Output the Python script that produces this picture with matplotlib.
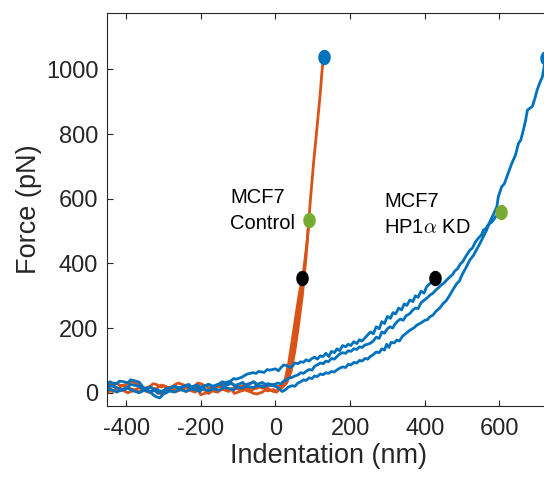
import numpy as np
import matplotlib
matplotlib.use("Agg")
import matplotlib.pyplot as plt
from matplotlib.path import Path

plt.rcParams['font.family'] = ['Liberation Sans', 'DejaVu Sans']
plt.rcParams['mathtext.fontset'] = 'cm'

# ---- indentation curves: MCF7 control (orange) ----
ctrl1_x = [-452, -444, -436, -425, -418, -410, -395, -388, -380, -365, -358, -350, -335, -328,
           -320, -305, -298, -290, -275, -268, -260, -245, -238, -230, -215, -208, -200, -185,
           -178, -170, -155, -148, -140, -125, -118, -110, -95, -88, -80, -65, -58, -50, -35,
           -28, -20, -5, 3, 10, 18, 26, 36, 46, 55, 63, 72]
ctrl1_y = [5, 14, 6, 8, 16, 22, 18, 12, 10, 2, 10, 6, 0, 8, 4, -4, 4, 2, 10, 4, 6, 14, 18, 8,
           2, 10, -6, 0, -2, 6, 2, 8, 10, 4, 12, -2, 4, 10, 8, 2, -2, -4, 2, 8, 6, 10, 4, 14, 22,
           40, 95, 170, 240, 300, 356]

ctrl2_x = [-452, -444, -436, -425, -418, -410, -395, -388, -380, -365, -358, -350, -335, -328,
           -320, -305, -298, -290, -275, -268, -260, -245, -238, -230, -215, -208, -200, -185,
           -178, -170, -155, -148, -140, -125, -118, -110, -95, -88, -80, -65, -58, -50, -35,
           -28, -20, -5, 3, 10, 20, 30, 40, 50, 60, 70, 80, 85, 90]
ctrl2_y = [18, 26, 22, 30, 24, 22, 28, 36, 32, 24, 18, 14, 20, 28, 26, 18, 22, 12, 20, 26, 30,
           24, 18, 16, 22, 30, 28, 20, 14, 12, 18, 24, 26, 32, 28, 24, 18, 22, 24, 30, 34, 22,
           14, 18, 20, 26, 20, 20, 24, 38, 80, 150, 235, 325, 420, 470, 534]

ctrl3_x = [-452, -444, -436, -425, -418, -410, -395, -388, -380, -365, -358, -350, -335, -328,
           -320, -305, -298, -290, -275, -268, -260, -245, -238, -230, -215, -208, -200, -185,
           -178, -170, -155, -148, -140, -125, -118, -110, -95, -88, -80, -65, -58, -50, -35,
           -28, -20, -5, 3, 10, 20, 30, 42, 52, 62, 72, 82, 93, 102, 108, 115, 120, 124, 127,
           129]
ctrl3_y = [-2, 6, 4, 14, 10, 8, 0, 4, 6, 16, 12, 10, 18, 14, 12, 24, 20, 18, 10, 14, 16, 8, 4,
           14, 20, 16, 12, 6, 10, 14, 22, 18, 16, 8, 12, 14, 10, 6, 16, 8, 12, 14, 22, 16, 12, 4,
           2, 10, 18, 30, 66, 130, 210, 300, 420, 587, 709, 780, 864, 925, 985, 1020, 1039]

# ---- indentation curves: MCF7 HP1a KD (blue) ----
kd1_x = [-452, -444, -436, -425, -418, -410, -395, -388, -380, -365, -355, -345, -330, -322,
         -315, -300, -292, -285, -270, -262, -255, -240, -232, -225, -210, -202, -195, -180,
         -172, -165, -150, -142, -135, -120, -112, -105, -90, -82, -75, -60, -52, -45, -30, -22,
         -15, 0, 8, 15, 22, 30, 38, 45, 52, 60, 68, 75, 82, 90, 98, 105, 112, 120, 128, 135,
         143, 150, 158, 165, 172, 180, 188, 195, 202, 210, 218, 225, 232, 240, 248, 255, 262,
         270, 278, 285, 292, 300, 308, 315, 322, 330, 338, 345, 352, 360, 368, 375, 382, 390,
         398, 405, 414, 420, 428]
kd1_y = [26, 34, 30, 28, 36, 35, 31, 40, 38, 33, 18, 8, 4, 10, -2, 6, 12, 14, 20, 14, 16, 22,
         26, 18, 24, 18, 19, 26, 22, 21, 28, 34, 31, 36, 44, 42, 48, 54, 58, 62, 60, 66, 63, 72,
         70, 74, 68, 78, 86, 84, 78, 82, 92, 90, 96, 94, 102, 98, 106, 110, 104, 114, 112, 122,
         112, 128, 124, 136, 130, 146, 142, 150, 146, 158, 152, 164, 160, 170, 180, 188, 182,
         204, 198, 220, 214, 236, 230, 248, 244, 262, 256, 275, 270, 287, 282, 300, 295, 314,
         308, 328, 338, 345, 354]

kd2_x = [-452, -444, -436, -425, -418, -410, -395, -388, -380, -365, -358, -350, -335, -328,
         -320, -305, -298, -290, -275, -268, -260, -245, -238, -230, -215, -208, -200, -185,
         -178, -170, -155, -148, -140, -125, -118, -110, -95, -88, -80, -65, -58, -50, -35, -28,
         -20, -5, 5, 15, 22, 30, 38, 45, 52, 60, 68, 75, 82, 90, 98, 105, 112, 120, 128, 135,
         142, 150, 158, 165, 172, 180, 188, 195, 202, 210, 218, 225, 232, 240, 247, 254, 262,
         270, 278, 285, 292, 300, 307, 314, 320, 328, 335, 342, 350, 356, 361, 368, 375, 382,
         390, 398, 405, 414, 422, 430, 438, 445, 452, 460, 468, 475, 480, 488, 495, 502, 510,
         521, 528, 535, 545, 552, 557, 564, 570, 580, 585, 590, 596, 603]
kd2_y = [14, 22, 20, 16, 12, 10, 18, 26, 24, 20, 14, 12, 18, 12, 10, 4, 8, 12, 18, 20, 14, 20,
         24, 16, 10, 14, 16, 22, 26, 18, 24, 28, 20, 26, 30, 22, 28, 32, 24, 30, 34, 26, 32, 26,
         28, 24, 30, 28, 36, 40, 46, 48, 52, 55, 62, 60, 66, 72, 70, 82, 86, 92, 90, 98, 96, 106,
         104, 112, 120, 124, 122, 130, 128, 136, 134, 142, 140, 148, 150, 153, 160, 172, 168,
         188, 184, 198, 204, 200, 212, 222, 228, 224, 238, 242, 246, 256, 262, 260, 278, 286,
         292, 302, 308, 318, 326, 334, 340, 350, 359, 366, 376, 384, 398, 406, 422, 441, 448,
         465, 480, 488, 503, 508, 520, 528, 536, 545, 548, 558]

kd3_x = [-452, -444, -436, -425, -418, -410, -395, -388, -380, -365, -358, -350, -335, -328,
         -320, -310, -300, -292, -285, -270, -262, -255, -240, -232, -225, -210, -202, -195,
         -180, -172, -165, -150, -142, -135, -120, -112, -105, -90, -82, -75, -60, -52, -45,
         -30, -22, -15, 0, 10, 18, 25, 35, 45, 52, 60, 68, 75, 82, 90, 98, 105, 112, 120, 128,
         135, 142, 150, 157, 164, 172, 180, 188, 195, 202, 210, 218, 225, 232, 240, 247, 254,
         262, 270, 278, 285, 292, 298, 304, 310, 318, 325, 332, 340, 350, 361, 370, 380, 390,
         400, 407, 414, 422, 430, 440, 450, 457, 465, 475, 486, 493, 500, 510, 521, 530, 540,
         548, 557, 566, 575, 584, 593, 597, 606, 613, 620, 627, 633, 643, 651, 657, 664, 670,
         675, 682, 688, 695, 701, 708, 715, 724]
kd3_y = [4, 12, 8, 2, 6, 8, 14, 10, 6, 0, 4, 8, 2, -6, -12, -16, -4, 0, 6, 2, 8, 10, 4, 8, 12,
         8, 4, 14, 6, 10, 12, 8, 14, 16, 12, 8, 18, 14, 18, 20, 16, 20, 22, 18, 24, 24, 20, 12,
         4, 8, 18, 22, 20, 30, 34, 40, 38, 46, 44, 52, 50, 58, 56, 62, 60, 66, 64, 70, 76, 80,
         78, 88, 86, 94, 92, 100, 98, 106, 104, 112, 118, 126, 124, 136, 132, 150, 140, 156,
         154, 163, 160, 174, 184, 194, 200, 210, 216, 224, 226, 235, 240, 252, 262, 277, 284,
         298, 318, 338, 346, 365, 386, 411, 424, 445, 462, 483, 504, 530, 552, 575, 606, 637,
         646, 668, 690, 709, 735, 771, 781, 812, 842, 874, 880, 885, 910, 936, 958, 977, 1036]

# end points of each approach curve (setpoint forces)
ctrl_end_x = [72, 90, 129]
ctrl_end_y = [356, 534, 1039]
kd_end_x = [428, 603, 724]
kd_end_y = [354, 558, 1036]
end_colors = ['#000000', '#77AC30', '#0072BD']

xticks = [-400, -200, 0, 200, 400, 600]
yticks = [0, 200, 400, 600, 800, 1000]

ORANGE = '#D95319'
BLUE = '#0072BD'
AX_COLOR = '#262626'

fig = plt.figure(figsize=(5.44, 4.79), dpi=100)
ax = fig.add_axes([0.1961, 0.1530, 0.8167, 0.8198])

lw = 2.0
for xs, ys in [(ctrl1_x, ctrl1_y), (ctrl2_x, ctrl2_y), (ctrl3_x, ctrl3_y)]:
    ax.plot(xs, ys, color=ORANGE, lw=lw, solid_joinstyle='round')
for xs, ys in [(kd1_x, kd1_y), (kd2_x, kd2_y), (kd3_x, kd3_y)]:
    ax.plot(xs, ys, color=BLUE, lw=lw, solid_joinstyle='round')

# slightly tall elliptical dot marker
t = np.linspace(0, 2 * np.pi, 60)
ellipse = Path(np.column_stack([0.8 * np.cos(t), np.sin(t)]), closed=True)
for ex, ey, c in zip(ctrl_end_x, ctrl_end_y, end_colors):
    ax.plot(ex, ey, marker=ellipse, ms=10, color=c, mec=c, ls='none', zorder=5)
for ex, ey, c in zip(kd_end_x, kd_end_y, end_colors):
    ax.plot(ex, ey, marker=ellipse, ms=10, color=c, mec=c, ls='none', zorder=5, clip_on=False)

tfs = 14.5
ax.text(-122, 588, 'MCF7', fontsize=tfs, color='black', va='baseline', ha='left')
ax.text(-122, 505, 'Control', fontsize=tfs, color='black', va='baseline', ha='left')
ax.text(292, 573, 'MCF7', fontsize=tfs, color='black', va='baseline', ha='left')
ax.text(292, 493, r'HP1$\alpha$ KD', fontsize=tfs, color='black', va='baseline', ha='left')

ax.set_xlim(-452, 738)
ax.set_ylim(-40, 1174)
ax.set_xticks(xticks)
ax.set_yticks(yticks)
ax.set_xticklabels([str(v) for v in xticks])
ax.set_yticklabels([str(v) for v in yticks])

for side in ['left', 'bottom', 'top', 'right']:
    ax.spines[side].set_color(AX_COLOR)
    ax.spines[side].set_linewidth(0.8)

ax.tick_params(axis='both', direction='in', length=4, width=0.8, colors=AX_COLOR,
               labelsize=17, top=True, right=True)
ax.tick_params(axis='x', pad=9)
ax.tick_params(axis='y', pad=6)

ax.set_xlabel('Indentation (nm)', fontsize=19.5, color=AX_COLOR, labelpad=2)
ax.set_ylabel('Force (pN)', fontsize=19.5, color=AX_COLOR, labelpad=3)

fig.savefig('out.png', dpi=100)
